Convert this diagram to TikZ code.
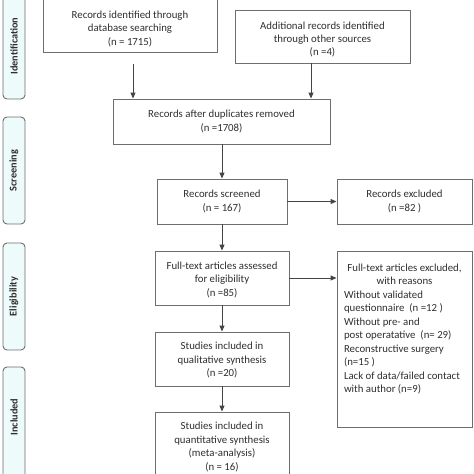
\documentclass[tikz,border=0pt]{standalone}
\usepackage{fontspec}
\setmainfont{Carlito}
\usetikzlibrary{arrows.meta}
\definecolor{linegray}{HTML}{6E6E6E}
\definecolor{arrowgray}{HTML}{454545}
\definecolor{textgray}{HTML}{2E2E2E}
\definecolor{sidefill}{HTML}{EEFBFB}
\newcommand{\shiftedtext}[2]{\raisebox{#1}[0pt][0pt]{\begin{tabular}{@{}c@{}}#2\end{tabular}}}
\begin{document}
\begin{tikzpicture}[x=1pt,y=-1pt,
  box/.style={draw=linegray, line width=0.9pt, inner sep=0pt, align=center,
    font=\fontsize{10.8}{13.45}\selectfont, text=textgray},
  sidebox/.style={draw=linegray, fill=sidefill, rounded corners=4pt, line width=0.9pt,
    minimum width=22pt, inner sep=0pt},
  sidetext/.style={rotate=90, font=\bfseries\fontsize{10.3}{12}\selectfont, text=textgray},
  arr/.style={draw=arrowgray, line width=0.9pt, -{Triangle[length=6pt,width=5pt]}}]
\useasboundingbox (0,0) rectangle (474,474);
\clip (0,0) rectangle (474,474);

% side phase labels
\node[sidebox, minimum height=119pt] (sI) at (14,39.5) {};
\node[sidetext] (tI) at (14,46) {Identification};
\node[sidebox, minimum height=107pt] (sS) at (14,170.5) {};
\node[sidetext] (tS) at (sS.center) {Screening};
\node[sidebox, minimum height=107pt] (sE) at (14,296.5) {};
\node[sidetext] (tE) at (sE.center) {Eligibility};
\node[sidebox, minimum height=123pt] (sN) at (14,428.5) {};
\node[sidetext] (tN) at (14,417) {Included};

% boxes
\node[box, minimum width=174pt, minimum height=62pt] (db) at (130,21)
  {\shiftedtext{-10.7pt}{Records identified through\\database searching\\(n = 1715)}};
\node[box, minimum width=175pt, minimum height=53pt] (other) at (322.5,36.5)
  {\shiftedtext{-6pt}{Additional records identified\\through other sources\\(n =4)}};
\node[box, minimum width=217pt, minimum height=45pt] (dup) at (221.5,121.5)
  {Records after duplicates removed\\(n =1708)};
\node[box, minimum width=130pt, minimum height=45pt] (scr) at (222,201.5)
  {Records screened\\(n = 167)};
\node[box, minimum width=135pt, minimum height=45pt] (exc) at (404.5,201.5)
  {Records excluded\\(n =82 )};
\node[box, minimum width=134pt, minimum height=54pt] (full) at (222,278)
  {\shiftedtext{-4.7pt}{Full-text articles assessed\\for eligibility\\(n =85)}};
\node[box, minimum width=135pt, minimum height=176pt] (reas) at (404.5,339)
  {\parbox[c][176pt][t]{121pt}{\vspace*{13pt}\centering Full-text articles excluded,\\with reasons\par
   \raggedright Without validated\\questionnaire\ \ (n =12 )\\Without pre- and\\post operatative\ \ (n= 29)\\
   Reconstructive surgery\\(n=15 )\\Lack of data/failed contact\\with author (n=9)}};
\node[box, minimum width=134pt, minimum height=54pt] (qual) at (222,359)
  {\shiftedtext{-4.4pt}{Studies included in\\qualitative synthesis\\(n =20)}};
\node[box, minimum width=134pt, minimum height=70pt] (quant) at (222,447)
  {Studies included in\\quantitative synthesis\\(meta-analysis)\\(n = 16)};

% connectors
\coordinate (dbout) at (133,64);
\draw[arr] (dbout) -- (dbout |- dup.north);
\draw[arr] ([xshift=-11.5pt]other.south) -- ([xshift=-11.5pt]other.south |- dup.north);
\draw[arr] (scr.north |- dup.south) -- (scr.north);
\draw[arr] (scr.east) -- (exc.west);
\draw[arr] (scr.south) -- (full.north);
\draw[arr] (full.east) -- (full.east -| reas.west);
\draw[arr] (full.south) -- (qual.north);
\draw[arr] (qual.south) -- (quant.north);
\end{tikzpicture}
\end{document}
